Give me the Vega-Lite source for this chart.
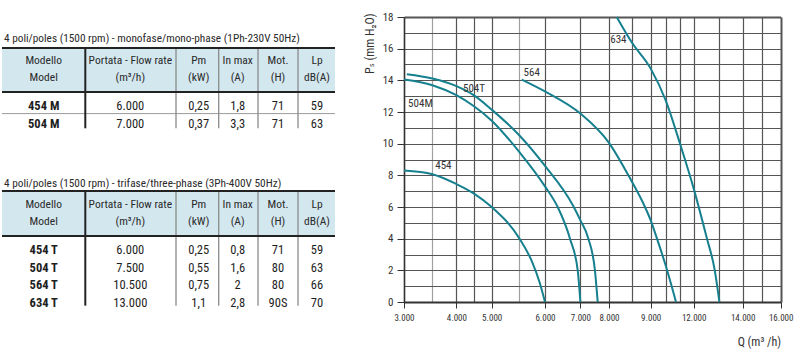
{
  "$schema": "https://vega.github.io/schema/vega-lite/v6.json",
  "padding": {"left": 0, "top": 11, "right": 5, "bottom": 5},
  "background": "white",
  "config": {
    "font": "Liberation Sans Narrow, Roboto Condensed, DejaVu Sans Condensed, Liberation Sans",
    "view": {"stroke": null}
  },
  "datasets": {
    "hbg": [
      {"c1": 0, "c2": 6.5, "r1": 1.5, "r2": 3.5},
      {"c1": 0, "c2": 6.5, "r1": 6.5, "r2": 8.5}
    ],
    "hrules": [
      {"r": 1.5, "c1": 0, "c2": 6.5, "w": "thick"},
      {"r": 3.5, "c1": 0, "c2": 6.5, "w": "thick"},
      {"r": 4.5, "c1": 0, "c2": 6.5, "w": "thin"},
      {"r": 6.5, "c1": 0, "c2": 6.5, "w": "thick"},
      {"r": 8.5, "c1": 0, "c2": 6.5, "w": "thick"}
    ],
    "vrules": [
      {"c": 1.5, "r1": 1.5, "r2": 5.5, "w": "thick"},
      {"c": 2.5, "r1": 1.5, "r2": 5.5, "w": "thin"},
      {"c": 3.5, "r1": 1.5, "r2": 5.5, "w": "thin"},
      {"c": 4.5, "r1": 1.5, "r2": 5.5, "w": "thin"},
      {"c": 5.5, "r1": 1.5, "r2": 5.5, "w": "thin"},
      {"c": 1.5, "r1": 6.5, "r2": 12.5, "w": "thick"},
      {"c": 2.5, "r1": 6.5, "r2": 12.5, "w": "thin"},
      {"c": 3.5, "r1": 6.5, "r2": 12.5, "w": "thin"},
      {"c": 4.5, "r1": 6.5, "r2": 12.5, "w": "thin"},
      {"c": 5.5, "r1": 6.5, "r2": 12.5, "w": "thin"}
    ],
    "cells": [
      {"row": 1, "col": 0, "t": "title", "text": "4 poli/poles (1500 rpm) - monofase/mono-phase (1Ph-230V 50Hz)"},
      {"row": 2, "col": 1, "t": "head", "text": "Modello"},
      {"row": 2, "col": 2, "t": "head", "text": "Portata - Flow rate"},
      {"row": 2, "col": 3, "t": "head", "text": "Pm"},
      {"row": 2, "col": 4, "t": "head", "text": "In max"},
      {"row": 2, "col": 5, "t": "head", "text": "Mot."},
      {"row": 2, "col": 6, "t": "head", "text": "Lp"},
      {"row": 3, "col": 1, "t": "head", "text": "Model"},
      {"row": 3, "col": 2, "t": "head", "text": "(m³/h)"},
      {"row": 3, "col": 3, "t": "head", "text": "(kW)"},
      {"row": 3, "col": 4, "t": "head", "text": "(A)"},
      {"row": 3, "col": 5, "t": "head", "text": "(H)"},
      {"row": 3, "col": 6, "t": "head", "text": "dB(A)"},
      {"row": 4, "col": 1, "t": "model", "text": "454 M"},
      {"row": 4, "col": 2, "t": "val", "text": "6.000"},
      {"row": 4, "col": 3, "t": "val", "text": "0,25"},
      {"row": 4, "col": 4, "t": "val", "text": "1,8"},
      {"row": 4, "col": 5, "t": "val", "text": "71"},
      {"row": 4, "col": 6, "t": "val", "text": "59"},
      {"row": 5, "col": 1, "t": "model", "text": "504 M"},
      {"row": 5, "col": 2, "t": "val", "text": "7.000"},
      {"row": 5, "col": 3, "t": "val", "text": "0,37"},
      {"row": 5, "col": 4, "t": "val", "text": "3,3"},
      {"row": 5, "col": 5, "t": "val", "text": "71"},
      {"row": 5, "col": 6, "t": "val", "text": "63"},
      {"row": 6, "col": 0, "t": "title", "text": "4 poli/poles (1500 rpm) - trifase/three-phase (3Ph-400V 50Hz)"},
      {"row": 7, "col": 1, "t": "head", "text": "Modello"},
      {"row": 7, "col": 2, "t": "head", "text": "Portata - Flow rate"},
      {"row": 7, "col": 3, "t": "head", "text": "Pm"},
      {"row": 7, "col": 4, "t": "head", "text": "In max"},
      {"row": 7, "col": 5, "t": "head", "text": "Mot."},
      {"row": 7, "col": 6, "t": "head", "text": "Lp"},
      {"row": 8, "col": 1, "t": "head", "text": "Model"},
      {"row": 8, "col": 2, "t": "head", "text": "(m³/h)"},
      {"row": 8, "col": 3, "t": "head", "text": "(kW)"},
      {"row": 8, "col": 4, "t": "head", "text": "(A)"},
      {"row": 8, "col": 5, "t": "head", "text": "(H)"},
      {"row": 8, "col": 6, "t": "head", "text": "dB(A)"},
      {"row": 9, "col": 1, "t": "model", "text": "454 T"},
      {"row": 9, "col": 2, "t": "val", "text": "6.000"},
      {"row": 9, "col": 3, "t": "val", "text": "0,25"},
      {"row": 9, "col": 4, "t": "val", "text": "0,8"},
      {"row": 9, "col": 5, "t": "val", "text": "71"},
      {"row": 9, "col": 6, "t": "val", "text": "59"},
      {"row": 10, "col": 1, "t": "model", "text": "504 T"},
      {"row": 10, "col": 2, "t": "val", "text": "7.500"},
      {"row": 10, "col": 3, "t": "val", "text": "0,55"},
      {"row": 10, "col": 4, "t": "val", "text": "1,6"},
      {"row": 10, "col": 5, "t": "val", "text": "80"},
      {"row": 10, "col": 6, "t": "val", "text": "63"},
      {"row": 11, "col": 1, "t": "model", "text": "564 T"},
      {"row": 11, "col": 2, "t": "val", "text": "10.500"},
      {"row": 11, "col": 3, "t": "val", "text": "0,75"},
      {"row": 11, "col": 4, "t": "val", "text": "2"},
      {"row": 11, "col": 5, "t": "val", "text": "80"},
      {"row": 11, "col": 6, "t": "val", "text": "66"},
      {"row": 12, "col": 1, "t": "model", "text": "634 T"},
      {"row": 12, "col": 2, "t": "val", "text": "13.000"},
      {"row": 12, "col": 3, "t": "val", "text": "1,1"},
      {"row": 12, "col": 4, "t": "val", "text": "2,8"},
      {"row": 12, "col": 5, "t": "val", "text": "90S"},
      {"row": 12, "col": 6, "t": "val", "text": "70"}
    ],
    "curves": [
      {"series": "454", "q": 3000, "ps": 8.3},
      {"series": "454", "q": 3500, "ps": 8.07},
      {"series": "454", "q": 4000, "ps": 7.45},
      {"series": "454", "q": 4500, "ps": 6.85},
      {"series": "454", "q": 5000, "ps": 6.0},
      {"series": "454", "q": 5500, "ps": 4.05},
      {"series": "454", "q": 5750, "ps": 2.55},
      {"series": "454", "q": 5900, "ps": 1.2},
      {"series": "454", "q": 6000, "ps": 0},
      {"series": "504M", "q": 3000, "ps": 14.05},
      {"series": "504M", "q": 3500, "ps": 13.69},
      {"series": "504M", "q": 4000, "ps": 13.06},
      {"series": "504M", "q": 4500, "ps": 12.36},
      {"series": "504M", "q": 5000, "ps": 11.45},
      {"series": "504M", "q": 5500, "ps": 9.5},
      {"series": "504M", "q": 6000, "ps": 7.3},
      {"series": "504M", "q": 6359, "ps": 6.0},
      {"series": "504M", "q": 6706, "ps": 4.0},
      {"series": "504M", "q": 6924, "ps": 2.0},
      {"series": "504M", "q": 7000, "ps": 0},
      {"series": "504T", "q": 3050, "ps": 14.38},
      {"series": "504T", "q": 3500, "ps": 14.11},
      {"series": "504T", "q": 4000, "ps": 13.63},
      {"series": "504T", "q": 4500, "ps": 13.05},
      {"series": "504T", "q": 5000, "ps": 12.15},
      {"series": "504T", "q": 5500, "ps": 10.55},
      {"series": "504T", "q": 6000, "ps": 8.6},
      {"series": "504T", "q": 6802, "ps": 6.05},
      {"series": "504T", "q": 7000, "ps": 5.16},
      {"series": "504T", "q": 7231, "ps": 4.0},
      {"series": "504T", "q": 7420, "ps": 2.0},
      {"series": "504T", "q": 7500, "ps": 0},
      {"series": "564", "q": 5552, "ps": 14.05},
      {"series": "564", "q": 6000, "ps": 13.3},
      {"series": "564", "q": 7000, "ps": 11.9},
      {"series": "564", "q": 8000, "ps": 10.05},
      {"series": "564", "q": 8427, "ps": 8.0},
      {"series": "564", "q": 8850, "ps": 6.0},
      {"series": "564", "q": 9000, "ps": 5.16},
      {"series": "564", "q": 9420, "ps": 4.0},
      {"series": "564", "q": 10000, "ps": 2.3},
      {"series": "564", "q": 10500, "ps": 0},
      {"series": "634", "q": 8170, "ps": 18},
      {"series": "634", "q": 8500, "ps": 16.4},
      {"series": "634", "q": 9000, "ps": 14.74},
      {"series": "634", "q": 10000, "ps": 12.74},
      {"series": "634", "q": 11000, "ps": 10.0},
      {"series": "634", "q": 12000, "ps": 7.16},
      {"series": "634", "q": 12500, "ps": 4.1},
      {"series": "634", "q": 12820, "ps": 2.0},
      {"series": "634", "q": 13000, "ps": 0}
    ],
    "labels": [
      {"label": "634", "q": 8207, "ps": 16.53},
      {"label": "564", "q": 5744, "ps": 14.47},
      {"label": "504T", "q": 4500, "ps": 13.45},
      {"label": "504M", "q": 3289, "ps": 12.53},
      {"label": "454", "q": 3729, "ps": 8.57}
    ]
  },
  "spacing": 69,
  "bounds": "flush",
  "hconcat": [
    {
      "width": 333,
      "height": 292,
      "layer": [
        {
          "data": {"name": "hbg"},
          "mark": {"type": "rect", "color": "#d3e7ef"},
          "encoding": {
            "x": {"field": "c1", "type": "quantitative", "axis": null,
                  "scale": {"domain": [0, 1, 1.5, 2, 2.5, 3, 3.5, 4, 4.5, 5, 5.5, 6, 6.5], "range": [0, 41.7, 83.3, 128.3, 174, 196.7, 216.7, 235.7, 256, 276, 296, 315, 333]}},
            "x2": {"field": "c2"},
            "y": {"field": "r1", "type": "quantitative", "axis": null,
                  "scale": {"domain": [1, 1.5, 2, 3, 3.5, 4, 4.5, 5, 5.5, 6, 6.5, 7, 8, 8.5, 9, 10, 11, 12, 12.5], "range": [22.3, 31, 44.3, 61, 75, 89, 96.6, 106.6, 111.3, 166.6, 174, 187.6, 205, 219, 232.6, 250.6, 268.3, 286, 291.3]}},
            "y2": {"field": "r2"}
          }
        },
        {
          "data": {"name": "hrules"},
          "transform": [{"filter": "datum.w === 'thin'"}],
          "mark": {"type": "rule", "color": "#9a9a9a", "strokeWidth": 1},
          "encoding": {
            "x": {"field": "c1", "type": "quantitative", "axis": null},
            "x2": {"field": "c2"},
            "y": {"field": "r", "type": "quantitative", "axis": null}
          }
        },
        {
          "data": {"name": "vrules"},
          "transform": [{"filter": "datum.w === 'thin'"}],
          "mark": {"type": "rule", "color": "#8a8a8a", "strokeWidth": 1.3},
          "encoding": {
            "x": {"field": "c", "type": "quantitative", "axis": null},
            "y": {"field": "r1", "type": "quantitative", "axis": null},
            "y2": {"field": "r2"}
          }
        },
        {
          "data": {"name": "vrules"},
          "transform": [{"filter": "datum.w === 'thick'"}],
          "mark": {"type": "rule", "color": "#222222", "strokeWidth": 2},
          "encoding": {
            "x": {"field": "c", "type": "quantitative", "axis": null},
            "y": {"field": "r1", "type": "quantitative", "axis": null},
            "y2": {"field": "r2"}
          }
        },
        {
          "data": {"name": "hrules"},
          "transform": [{"filter": "datum.w === 'thick'"}],
          "mark": {"type": "rule", "color": "#222222", "strokeWidth": 2.2},
          "encoding": {
            "x": {"field": "c1", "type": "quantitative", "axis": null},
            "x2": {"field": "c2"},
            "y": {"field": "r", "type": "quantitative", "axis": null}
          }
        },
        {
          "data": {"name": "cells"},
          "transform": [{"filter": "datum.t === 'title'"}],
          "mark": {"type": "text", "align": "left", "baseline": "middle", "dx": 2, "fontSize": 11.3, "color": "#2a2a2a"},
          "encoding": {
            "x": {"field": "col", "type": "quantitative", "axis": null},
            "y": {"field": "row", "type": "quantitative", "axis": null},
            "text": {"field": "text"}
          }
        },
        {
          "data": {"name": "cells"},
          "transform": [{"filter": "datum.t === 'head'"}],
          "mark": {"type": "text", "align": "center", "baseline": "middle", "fontSize": 11.5, "color": "#2a2a2a"},
          "encoding": {
            "x": {"field": "col", "type": "quantitative", "axis": null},
            "y": {"field": "row", "type": "quantitative", "axis": null},
            "text": {"field": "text"}
          }
        },
        {
          "data": {"name": "cells"},
          "transform": [{"filter": "datum.t === 'model'"}],
          "mark": {"type": "text", "align": "center", "baseline": "middle", "fontSize": 12.5, "fontWeight": "bold", "color": "#1e1e1e"},
          "encoding": {
            "x": {"field": "col", "type": "quantitative", "axis": null},
            "y": {"field": "row", "type": "quantitative", "axis": null},
            "text": {"field": "text"}
          }
        },
        {
          "data": {"name": "cells"},
          "transform": [{"filter": "datum.t === 'val'"}],
          "mark": {"type": "text", "align": "center", "baseline": "middle", "fontSize": 12.5, "color": "#1e1e1e"},
          "encoding": {
            "x": {"field": "col", "type": "quantitative", "axis": null},
            "y": {"field": "row", "type": "quantitative", "axis": null},
            "text": {"field": "text"}
          }
        }
      ]
    },
    {
      "width": 377,
      "height": 285,
      "encoding": {
        "x": {
          "field": "q", "type": "quantitative",
          "scale": {
            "domain": [3000, 3500, 4000, 4500, 5000, 5500, 6000, 7000, 7500, 8000, 8500, 9000, 10000, 10500, 11000, 12000, 13000, 14000, 15000, 16000],
            "range": [0, 28.4, 52.4, 70, 87.7, 115, 141, 176.4, 193.7, 205, 227.7, 246.7, 261.7, 272, 276, 289.7, 315.4, 338.7, 358.4, 376.7]
          },
          "axis": {
            "values": [3000, 3500, 4000, 4500, 5000, 5500, 6000, 7000, 8000, 8500, 9000, 10000, 11000, 12000, 13000, 14000, 15000, 16000],
            "labelExpr": "indexof([3000,4000,5000,6000,7000,8000,9000,12000,14000,16000], datum.value) >= 0 ? replace(format(datum.value, ','), ',', '.') : ''",
            "labelOverlap": false,
            "labelFlush": false,
            "labelBound": false,
            "labelFontSize": 9,
            "labelColor": "#333333",
            "labelPadding": 5,
            "tickSize": 6,
            "tickColor": "#333333",
            "tickWidth": 1,
            "tickOpacity": {"condition": {"test": "indexof([3000,4000,5000,6000,7000,8000,9000,12000,14000,16000], datum.value) >= 0", "value": 1}, "value": 0},
            "grid": true,
            "gridColor": {"condition": {"test": "datum.value === 3500 || datum.value === 5500", "value": "#a0a0a0"}, "value": "#555555"},
            "gridWidth": {"condition": {"test": "datum.value === 16000", "value": 2}, "value": 1.2},
            "gridOpacity": 1,
            "domainColor": "#333333",
            "domainWidth": 2,
            "title": "Q (m³ /h)",
            "titleAnchor": "end",
            "titleFontSize": 12,
            "titleFontWeight": "normal",
            "titleColor": "#333333",
            "titlePadding": 14
          }
        },
        "y": {
          "field": "ps", "type": "quantitative",
          "scale": {"domain": [0, 18], "nice": false},
          "axis": {
            "values": [0, 1, 2, 3, 4, 5, 6, 7, 8, 9, 10, 11, 12, 13, 14, 15, 16, 17, 18],
            "labelExpr": "datum.value % 2 === 0 ? datum.label : ''",
            "labelOverlap": false,
            "labelFontSize": 11,
            "labelColor": "#333333",
            "labelPadding": 4,
            "tickSize": 7,
            "tickColor": "#333333",
            "tickOpacity": {"condition": {"test": "datum.value % 2 === 0", "value": 1}, "value": 0},
            "grid": true,
            "gridColor": "#555555",
            "gridWidth": {"condition": {"test": "datum.value === 18", "value": 2}, "value": 1.2},
            "gridOpacity": 1,
            "domainColor": "#333333",
            "domainWidth": 1.5,
            "title": "Pₛ (mm H₂O)",
            "titleAnchor": "end",
            "titleFontSize": 12,
            "titleFontWeight": "normal",
            "titleColor": "#333333",
            "titlePadding": 6,
            "titleY": -4
          }
        }
      },
      "layer": [
        {
          "data": {"name": "curves"},
          "mark": {"type": "line", "color": "#17808f", "strokeWidth": 2, "interpolate": "monotone"},
          "encoding": {
            "detail": {"field": "series"}
          }
        },
        {
          "data": {"name": "labels"},
          "mark": {"type": "text", "fontSize": 11, "color": "#333333", "align": "center", "baseline": "middle"},
          "encoding": {
            "text": {"field": "label"}
          }
        }
      ]
    }
  ]
}
